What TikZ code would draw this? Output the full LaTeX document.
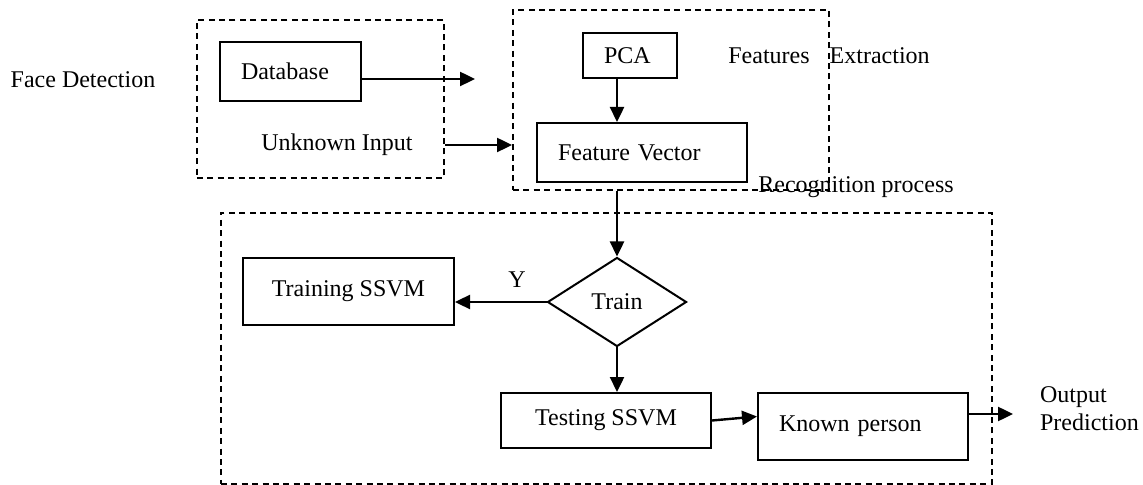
\documentclass[tikz,border=0pt]{standalone}
\usepackage{fontspec}
\setmainfont{Liberation Serif}
\usepackage{tikz}
\usetikzlibrary{arrows.meta, shapes.geometric}

\begin{document}
\begin{tikzpicture}[x = 0.5pt, y = -0.5pt, font = \fontsize{12}{14}\selectfont,
		box/.style = {draw, line width = 1pt, inner sep = 0pt, anchor = north west},
		padded/.style = {align = left, text width = #1, inner xsep = 10.5pt},
		group/.style = {draw, line width = 0.9pt, dash pattern = on 3pt off 2.2pt, inner sep = 0pt, anchor = north west},
		decision/.style = {draw, diamond, line width = 1pt, inner sep = 0pt, minimum width = 69.5pt, minimum height = 44.5pt},
		arr/.style = {line width = 1.2pt, -{Triangle[length = 7.5pt, width = 7pt]}}]
	\useasboundingbox (0,0) rectangle (1143,485);
	\node[group, minimum width = 123.5pt, minimum height = 79pt] (fd) at (196,19) {};
	\node[group, minimum width = 158pt, minimum height = 90pt] (fe) at (512,9) {};
	\node[group, minimum width = 385.5pt, minimum height = 135.5pt] (rp) at (220,212) {};
	\node (fdlabel) at (83,80) {Face Detection};
	\node (felabel) at (829,56) {Features\hspace{7pt} Extraction};
	\node (rplabel) at (856,187) {Recognition process};
	\node[box, padded = 49.5pt, minimum height = 29.5pt] (db) at (219,41) {Database};
	\node (ui) at (337,145) {Unknown Input};
	\node[box, padded = 26pt, minimum height = 22.5pt] (pca) at (582,32) {PCA};
	\node[box, padded = 84pt, minimum height = 29.5pt] (fv) at (536,122) {Feature Vector};
	\node[decision] (tr) at (617,302) {Train};
	\node[box, minimum width = 105.5pt, minimum height = 33.5pt] (trn) at (242,257) {Training SSVM};
	\node (y) at (517,280) {Y};
	\node[box, minimum width = 105pt, minimum height = 27.5pt] (ts) at (500,392) {Testing SSVM};
	\node[box, padded = 84pt, minimum height = 33.5pt] (kp) at (757,392) {Known person};
	\node[align = left, anchor = west] (out) at (1033,409) {Output\\Prediction};
	\coordinate (dbout) at (475,79);
	\coordinate (pout) at (1013,414);
	\draw[arr] (db.east |- dbout) -- (dbout);
	\draw[arr] (ui.east -| fd.east) -- (ui.east -| fe.west);
	\draw[arr] (tr.north |- pca.south) -- (tr.north |- fv.north);
	\draw[arr] (tr.north |- fe.south) -- (tr.north);
	\draw[arr] (tr.west) -- (tr.west -| trn.east);
	\draw[arr] (tr.south) -- (tr.south |- ts.north);
	\draw[arr] (ts.east) -- ([yshift = 5pt]kp.west);
	\draw[arr] (pout -| kp.east) -- (pout);
\end{tikzpicture}
\end{document}
